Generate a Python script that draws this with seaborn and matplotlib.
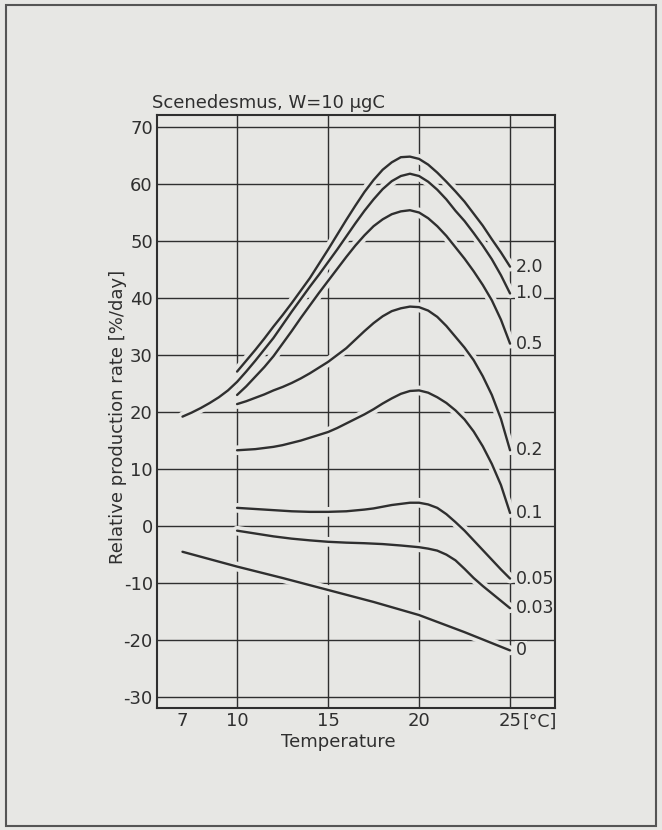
import numpy as np
import pandas as pd
import matplotlib
matplotlib.use('Agg')
import matplotlib.pyplot as plt
import seaborn as sns
from matplotlib.patches import Rectangle

# values, one curve per concentration
conc_labels = ['2.0', '1.0', '0.5', '0.2', '0.1', '0.05', '0.03', '0']

x_2_0 = [10, 10.5, 11, 11.5, 12, 12.5, 13, 13.5, 14, 14.5, 15, 15.5, 16, 16.5, 17, 17.5, 18, 18.5,
         19, 19.5, 20, 20.5, 21, 21.5, 22, 22.5, 23, 23.5, 24, 24.5, 25]
y_2_0 = [27.1, 29.0, 30.9, 32.9, 35.0, 37.0, 39.1, 41.3, 43.5, 46.0, 48.5, 51.1, 53.7, 56.2, 58.6, 60.7,
         62.5, 63.8, 64.7, 64.8, 64.4, 63.4, 62.0, 60.4, 58.7, 56.9, 54.8, 52.7, 50.3, 48.0, 45.5]

x_1_0 = [7, 7.5, 8, 8.5, 9, 9.5, 10, 10.5, 11, 11.5, 12, 12.5, 13, 13.5, 14, 14.5, 15, 15.5, 16, 16.5,
         17, 17.5, 18, 18.5, 19, 19.5, 20, 20.5, 21, 21.5, 22, 22.5, 23, 23.5, 24, 24.5, 25]
y_1_0 = [19.2, 19.9, 20.7, 21.6, 22.6, 23.8, 25.3, 27.1, 29.0, 31.0, 33.0, 35.3, 37.6, 39.8, 42.0, 44.1,
         46.3, 48.5, 50.8, 53.1, 55.3, 57.3, 59.1, 60.5, 61.4, 61.8, 61.4, 60.4, 59.0, 57.3, 55.3, 53.5,
         51.4, 49.2, 46.8, 44.0, 40.8]

x_0_5 = [10, 10.5, 11, 11.5, 12, 12.5, 13, 13.5, 14, 14.5, 15, 15.5, 16, 16.5, 17, 17.5, 18, 18.5,
         19, 19.5, 20, 20.5, 21, 21.5, 22, 22.5, 23, 23.5, 24, 24.5, 25]
y_0_5 = [23.0, 24.5, 26.2, 27.9, 29.8, 32.0, 34.2, 36.5, 38.7, 40.9, 43.0, 45.1, 47.2, 49.2, 51.0, 52.6,
         53.8, 54.7, 55.2, 55.4, 55.0, 54.0, 52.6, 50.9, 48.9, 46.9, 44.7, 42.3, 39.6, 36.2, 32.0]

x_0_2 = [10, 10.5, 11, 11.5, 12, 12.5, 13, 13.5, 14, 14.5, 15, 15.5, 16, 16.5, 17, 17.5, 18, 18.5,
         19, 19.5, 20, 20.5, 21, 21.5, 22, 22.5, 23, 23.5, 24, 24.5, 25]
y_0_2 = [21.4, 21.9, 22.5, 23.1, 23.8, 24.4, 25.1, 25.9, 26.8, 27.8, 28.8, 30.0, 31.2, 32.7, 34.2, 35.6,
         36.8, 37.7, 38.2, 38.5, 38.4, 37.8, 36.7, 35.1, 33.2, 31.3, 29.1, 26.3, 23.0, 18.8, 13.3]

x_0_1 = [10, 10.5, 11, 11.5, 12, 12.5, 13, 13.5, 14, 14.5, 15, 15.5, 16, 16.5, 17, 17.5, 18, 18.5,
         19, 19.5, 20, 20.5, 21, 21.5, 22, 22.5, 23, 23.5, 24, 24.5, 25]
y_0_1 = [13.3, 13.4, 13.5, 13.7, 13.9, 14.2, 14.6, 15.0, 15.5, 16.0, 16.5, 17.2, 18.0, 18.8, 19.6, 20.5,
         21.5, 22.4, 23.2, 23.7, 23.8, 23.4, 22.6, 21.6, 20.3, 18.7, 16.6, 14.0, 10.9, 7.2, 2.3]

x_0_05 = [10, 11, 12, 13, 14, 15, 16, 17, 17.5, 18, 18.5, 19, 19.5, 20, 20.5, 21, 21.5, 22, 22.5,
          23, 23.5, 24, 24.5, 25]
y_0_05 = [3.2, 3.0, 2.8, 2.6, 2.5, 2.5, 2.6, 2.9, 3.1, 3.4, 3.7, 3.9, 4.1, 4.1, 3.8, 3.2, 2.1, 0.7,
          -0.8, -2.5, -4.2, -5.9, -7.6, -9.2]

x_0_03 = [10, 11, 12, 13, 14, 15, 16, 17, 18, 19, 20, 20.5, 21, 21.5, 22, 22.5, 23, 23.5, 24, 24.5, 25]
y_0_03 = [-0.8, -1.3, -1.8, -2.2, -2.5, -2.75, -2.9, -3.0, -3.15, -3.4, -3.7, -3.95, -4.3, -5.0, -6.0,
          -7.5, -9.1, -10.5, -11.8, -13.1, -14.4]

x_0 = [7, 10, 12.5, 15, 17.5, 20, 22.5, 25]
y_0 = [-4.5, -7.1, -9.1, -11.2, -13.3, -15.6, -18.6, -21.8]

xs = [x_2_0, x_1_0, x_0_5, x_0_2, x_0_1, x_0_05, x_0_03, x_0]
ys = [y_2_0, y_1_0, y_0_5, y_0_2, y_0_1, y_0_05, y_0_03, y_0]

x_ticks = [7, 10, 15, 20, 25]
x_grid = [10, 15, 20, 25]
y_ticks = list(range(-30, 80, 10))

df = pd.concat([pd.DataFrame({'temp': x, 'rate': y, 'conc': c})
                for x, y, c in zip(xs, ys, conc_labels)], ignore_index=True)

bg = '#e7e7e4'
ink = '#2f2f2f'

sns.set_style('white', rc={'axes.facecolor': bg, 'figure.facecolor': bg})
plt.rcParams['font.family'] = ['DejaVu Sans']
plt.rcParams['axes.unicode_minus'] = False

fig = plt.figure(figsize=(6.62, 8.30), dpi=100)
ax = fig.add_axes([157/662, 1 - 708/830, (555 - 157)/662, (708 - 115)/830])

for yv in y_ticks:
    ax.axhline(yv, color=ink, lw=1.0, zorder=1)
for xv in x_grid:
    ax.axvline(xv, color=ink, lw=1.0, zorder=1)

# first pass: background-coloured halo that breaks the grid lines
sns.lineplot(data=df, x='temp', y='rate', units='conc', estimator=None,
             color=bg, lw=7, sort=False, ax=ax, zorder=2)
sns.lineplot(data=df, x='temp', y='rate', units='conc', estimator=None,
             color=ink, lw=1.7, sort=False, ax=ax, zorder=3)

for x, y, c in zip(xs, ys, conc_labels):
    ax.text(25.3, y[-1], c, ha='left', va='center', fontsize=12.5, color=ink, zorder=2.4,
            bbox=dict(facecolor=bg, edgecolor='none', pad=0.5))

ax.set_xlim(5.6, 27.47)
ax.set_ylim(-31.9, 72.1)
ax.set_xticks(x_ticks)
ax.set_yticks(y_ticks)
ax.tick_params(length=0, labelsize=13, colors=ink, pad=3)
ax.set_xlabel('')
ax.set_ylabel('')
for s in ax.spines.values():
    s.set_color(ink)
    s.set_linewidth(1.5)

fig.text(540/662, 1 - 722/830, '[°C]', fontsize=12.5, color=ink, ha='center', va='center')
fig.text(152/662, 1 - 103/830, 'Scenedesmus, W=10 μgC', fontsize=13, color=ink, ha='left', va='center')
fig.text(338/662, 1 - 742/830, 'Temperature', fontsize=13, color=ink, ha='center', va='center')
fig.text(118/662, 1 - 417/830, 'Relative production rate [%/day]', fontsize=13, color=ink,
         rotation=90, ha='center', va='center')

fig.patches.append(Rectangle((6/662, 1 - 826/830), 650/662, 821/830, transform=fig.transFigure,
                             fill=False, edgecolor='#555555', lw=1.5))

fig.savefig('out.png', dpi=100, facecolor=bg)
